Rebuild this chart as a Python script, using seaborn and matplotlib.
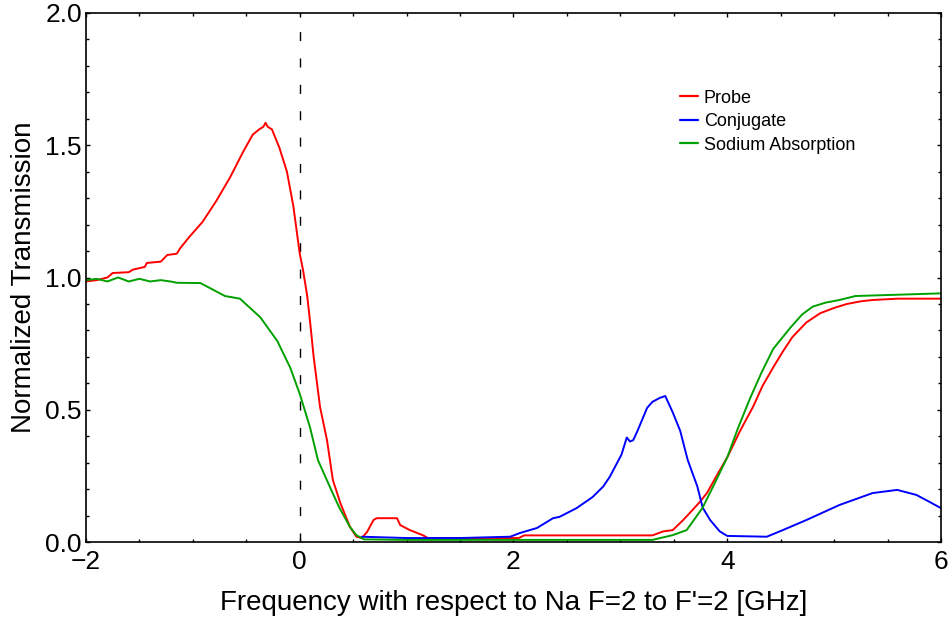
import matplotlib
matplotlib.use("Agg")
import matplotlib.pyplot as plt
from matplotlib.ticker import MultipleLocator
import seaborn as sns
import pandas as pd

# Probe transmission
probe_x = [-2.00, -1.90, -1.80, -1.75, -1.60, -1.56, -1.45, -1.43, -1.30, -1.24,
           -1.15, -1.12, -1.03, -0.91, -0.78, -0.65, -0.53, -0.44, -0.38, -0.34,
           -0.32, -0.30, -0.26, -0.19, -0.12, -0.06, -0.02, 0.00, 0.03, 0.07,
           0.10, 0.13, 0.19, 0.255, 0.31, 0.38, 0.47, 0.53, 0.58, 0.63,
           0.69, 0.72, 0.91, 0.94, 1.03, 1.15, 1.20, 2.05, 2.10, 3.30,
           3.40, 3.49, 3.58, 3.65, 3.74, 3.81, 3.90, 4.00, 4.12, 4.24,
           4.33, 4.43, 4.52, 4.61, 4.74, 4.87, 5.00, 5.12, 5.25, 5.36,
           5.60, 6.00]
probe_y = [0.985, 0.99, 1.00, 1.017, 1.02, 1.03, 1.04, 1.055, 1.06, 1.085,
           1.09, 1.11, 1.155, 1.21, 1.29, 1.38, 1.475, 1.54, 1.56, 1.57,
           1.585, 1.57, 1.56, 1.49, 1.40, 1.27, 1.15, 1.09, 1.03, 0.93,
           0.82, 0.70, 0.51, 0.385, 0.234, 0.147, 0.057, 0.02, 0.015, 0.038,
           0.083, 0.09, 0.09, 0.064, 0.045, 0.026, 0.015, 0.015, 0.025, 0.025,
           0.04, 0.045, 0.08, 0.11, 0.15, 0.185, 0.25, 0.32, 0.42, 0.51,
           0.59, 0.66, 0.72, 0.775, 0.83, 0.865, 0.885, 0.90, 0.91, 0.915,
           0.92, 0.92]

# Conjugate transmission
conj_x = [0.58, 1.00, 1.50, 1.97, 2.06, 2.22, 2.37, 2.43, 2.59, 2.74,
          2.84, 2.90, 3.01, 3.06, 3.09, 3.12, 3.16, 3.25, 3.30, 3.37,
          3.42, 3.49, 3.56, 3.63, 3.72, 3.77, 3.84, 3.93, 4.00, 4.37,
          4.52, 4.74, 5.05, 5.36, 5.59, 5.77, 5.90, 6.00]
conj_y = [0.02, 0.015, 0.015, 0.02, 0.034, 0.053, 0.09, 0.095, 0.128, 0.17,
          0.21, 0.246, 0.33, 0.395, 0.38, 0.385, 0.42, 0.507, 0.53, 0.545,
          0.552, 0.49, 0.42, 0.31, 0.21, 0.13, 0.083, 0.04, 0.023, 0.02,
          0.045, 0.083, 0.14, 0.185, 0.197, 0.178, 0.15, 0.128]

# Sodium absorption reference
sodium_x = [-2.00, -1.90, -1.80, -1.70, -1.60, -1.50, -1.40, -1.30, -1.21, -1.15,
            -0.93, -0.84, -0.70, -0.56, -0.37, -0.21, -0.09, 0.00, 0.095, 0.17,
            0.28, 0.37, 0.47, 0.53, 0.60, 1.00, 2.00, 3.30, 3.49, 3.62,
            3.70, 3.77, 3.88, 4.00, 4.10, 4.21, 4.32, 4.43, 4.59, 4.70,
            4.80, 4.92, 5.05, 5.20, 5.60, 6.00]
sodium_y = [0.99, 0.995, 0.985, 1.00, 0.985, 0.995, 0.985, 0.99, 0.985, 0.98,
            0.979, 0.96, 0.93, 0.92, 0.85, 0.76, 0.66, 0.56, 0.435, 0.31,
            0.21, 0.13, 0.057, 0.026, 0.01, 0.008, 0.008, 0.008, 0.026, 0.045,
            0.09, 0.13, 0.22, 0.32, 0.43, 0.54, 0.64, 0.73, 0.81, 0.86,
            0.89, 0.905, 0.915, 0.93, 0.935, 0.94]

series_names = ["Probe", "Conjugate", "Sodium Absorption"]
series_colors = ["#ff0000", "#0000ff", "#00a000"]

x_ticks = [-2, 0, 2, 4, 6]
y_ticks = [0.0, 0.5, 1.0, 1.5, 2.0]
x_label = "Frequency with respect to Na F=2 to F'=2 [GHz]"
y_label = "Normalized Transmission"

frames = [
    pd.DataFrame({"freq": probe_x, "trans": probe_y, "series": series_names[0]}),
    pd.DataFrame({"freq": conj_x, "trans": conj_y, "series": series_names[1]}),
    pd.DataFrame({"freq": sodium_x, "trans": sodium_y, "series": series_names[2]}),
]
df = pd.concat(frames, ignore_index=True)

sns.set_style("ticks")
plt.rcParams["font.family"] = ["Liberation Sans", "DejaVu Sans"]
plt.rcParams["text.color"] = "black"
plt.rcParams["axes.labelcolor"] = "black"
plt.rcParams["xtick.color"] = "black"
plt.rcParams["ytick.color"] = "black"

fig = plt.figure(figsize=(9.53, 6.18), dpi=100)
ax = fig.add_axes([86 / 953, 1 - 542 / 618, (941 - 86) / 953, (542 - 13) / 618])

sns.lineplot(data=df, x="freq", y="trans", hue="series", hue_order=series_names,
             palette=series_colors, sort=False, estimator=None, linewidth=1.4,
             ax=ax)

ax.axvline(0, color="black", linewidth=1.0, dashes=(6.5, 12.5), zorder=0)

ax.set_xlim(-2, 6)
ax.set_ylim(0, 2)
ax.set_xticks(x_ticks)
ax.set_xticklabels([f"{t}".replace("-", "\u2212") for t in x_ticks])
ax.set_yticks(y_ticks)
ax.set_yticklabels([f"{t:.1f}" for t in y_ticks])
ax.xaxis.set_minor_locator(MultipleLocator(0.5))
ax.yaxis.set_minor_locator(MultipleLocator(0.1))
ax.tick_params(which="both", direction="in", top=True, right=True,
               width=1.0, color="black", labelcolor="black")
ax.tick_params(which="major", length=3.0)
ax.tick_params(which="minor", length=2.5)
ax.tick_params(axis="x", which="major", labelsize=19, pad=6)
ax.tick_params(axis="y", which="major", labelsize=19, pad=3)
for s in ax.spines.values():
    s.set_linewidth(1.2)
    s.set_color("black")

ax.set_xlabel(x_label, fontsize=20, labelpad=11, color="black")
ax.set_ylabel(y_label, fontsize=20, labelpad=6, color="black")

leg = ax.legend(loc="upper left", bbox_to_anchor=(0.695, 0.855), frameon=False,
                fontsize=13, handlelength=1.0, handletextpad=0.3,
                labelspacing=0.36, borderpad=0, borderaxespad=0)
for line in leg.get_lines():
    line.set_linewidth(1.6)
for txt in leg.get_texts():
    txt.set_color("black")

fig.savefig("out.png", dpi=100)
